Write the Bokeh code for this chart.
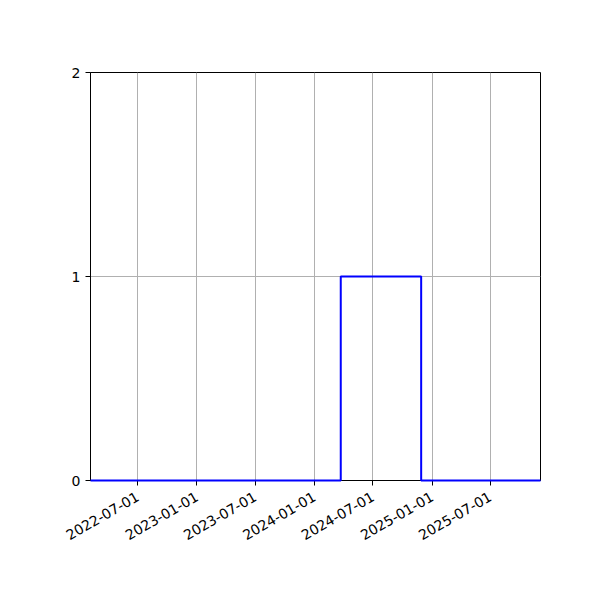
import math
from datetime import datetime

from bokeh.plotting import figure
from bokeh.models import Range1d, FixedTicker, DatetimeTickFormatter, ColumnDataSource
from bokeh.embed import file_html
from bokeh.resources import INLINE

# step series (value holds from each date until the next one)
dates = ["2022-02-04", "2024-03-23", "2024-11-28", "2025-12-04"]
values = [0, 1, 0, 0]

x_ticks = ["2022-07-01", "2023-01-01", "2023-07-01", "2024-01-01",
           "2024-07-01", "2025-01-01", "2025-07-01"]
y_ticks = [0, 1, 2]


def to_dt(s):
    return datetime.strptime(s, "%Y-%m-%d")


def to_ms(s):
    return (to_dt(s) - datetime(1970, 1, 1)).total_seconds() * 1000


source = ColumnDataSource(data={"x": [to_dt(d) for d in dates], "y": values})

p = figure(width=584, height=584, x_axis_type="datetime",
           output_backend="svg", toolbar_location=None,
           x_range=Range1d(to_dt(dates[0]), to_dt(dates[-1])),
           y_range=Range1d(0, 2),
           min_border_left=90, min_border_right=44,
           min_border_top=72, min_border_bottom=104)

r = p.step(x="x", y="y", source=source, mode="after", line_color="blue", line_width=2)
r.level = "overlay"

p.xaxis.ticker = FixedTicker(ticks=[to_ms(t) for t in x_ticks])
p.xaxis.formatter = DatetimeTickFormatter(days="%Y-%m-%d", months="%Y-%m-%d", years="%Y-%m-%d")
p.xaxis.major_label_orientation = math.pi / 6
p.xaxis.major_label_standoff = 10
p.yaxis.ticker = FixedTicker(ticks=y_ticks)

for ax in (p.xaxis, p.yaxis):
    ax.minor_tick_line_color = None
    ax.major_tick_in = 0
    ax.major_tick_out = 5
    ax.major_tick_line_color = "black"
    ax.axis_line_color = "black"
    ax.major_label_text_font = "DejaVu Sans"
    ax.major_label_text_font_size = "14px"
    ax.major_label_text_color = "black"

p.grid.grid_line_color = "#b0b0b0"
p.grid.grid_line_width = 1
p.outline_line_color = "black"
p.outline_line_width = 1
p.outline_line_alpha = 1
p.background_fill_color = "white"
p.border_fill_color = "white"

open("out.html", "w").write(file_html(p, INLINE))
